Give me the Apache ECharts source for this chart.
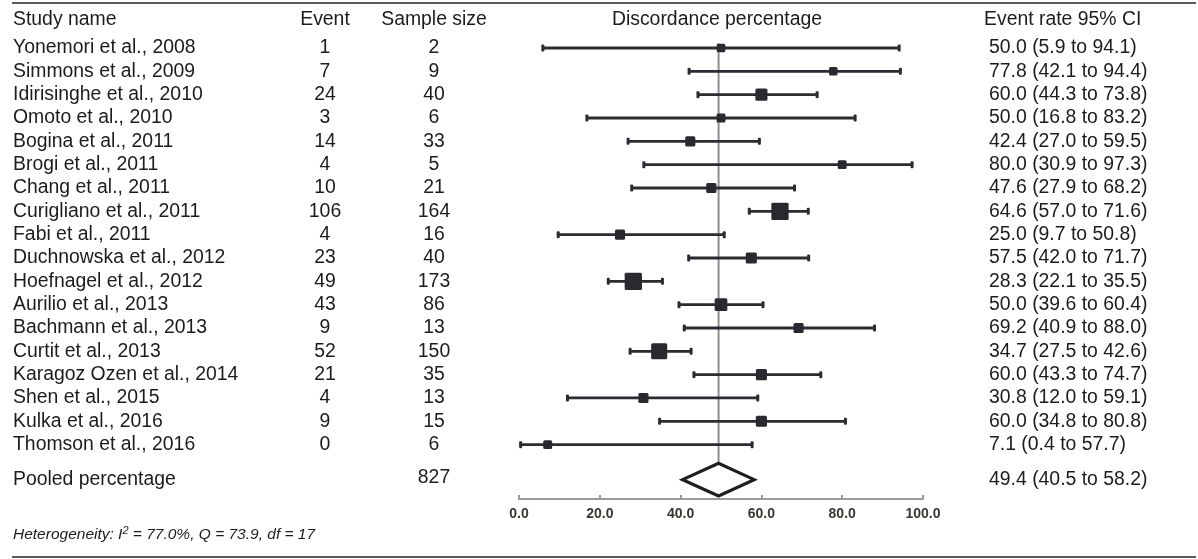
<!DOCTYPE html>
<html><head><meta charset="utf-8">
<script src="https://cdn.jsdelivr.net/npm/echarts@6/dist/echarts.min.js"></script>
<style>html,body{margin:0;padding:0;background:#fff}#c{width:1198px;height:559px}</style>
</head><body><div id="c"></div>
<script>
const studies = ['Yonemori et al., 2008','Simmons et al., 2009','Idirisinghe et al., 2010','Omoto et al., 2010','Bogina et al., 2011','Brogi et al., 2011','Chang et al., 2011','Curigliano et al., 2011','Fabi et al., 2011','Duchnowska et al., 2012','Hoefnagel et al., 2012','Aurilio et al., 2013','Bachmann et al., 2013','Curtit et al., 2013','Karagoz Ozen et al., 2014','Shen et al., 2015','Kulka et al., 2016','Thomson et al., 2016'];
const events = [1,7,24,3,14,4,10,106,4,23,49,43,9,52,21,4,9,0];
const sampleSizes = [2,9,40,6,33,5,21,164,16,40,173,86,13,150,35,13,15,6];
const rates = [50.0,77.8,60.0,50.0,42.4,80.0,47.6,64.6,25.0,57.5,28.3,50.0,69.2,34.7,60.0,30.8,60.0,7.1];
const lowerCI = [5.9,42.1,44.3,16.8,27.0,30.9,27.9,57.0,9.7,42.0,22.1,39.6,40.9,27.5,43.3,12.0,34.8,0.4];
const upperCI = [94.1,94.4,73.8,83.2,59.5,97.3,68.2,71.6,50.8,71.7,35.5,60.4,88.0,42.6,74.7,59.1,80.8,57.7];
const relWeights = [3.5,3.5,5.3,3.7,4.3,3.7,4.3,7.9,4.3,4.8,7.9,5.6,4.3,7.3,4.8,4.3,4.8,3.7];
const pooledLabel = 'Pooled percentage';
const pooledRate = 49.4, pooledLower = 40.5, pooledUpper = 58.2, pooledTotal = 827;
const heterogeneity = {I2: '77.0%', Q: '73.9', df: '17'};
const xTicks = [0, 20, 40, 60, 80, 100];

const FONT = "'Liberation Sans', Arial, sans-serif";
const TXT = '#1c1c1c';
const ROW_STEP = 1, POOLED_ROW = 18.5;
const fmt = v => v.toFixed(1);

const forestData = studies.map((s, i) => [lowerCI[i], upperCI[i], rates[i], i * ROW_STEP, relWeights[i]]);
const tableData = studies.map((s, i) => [0, i * ROW_STEP]);
tableData.push([0, POOLED_ROW]);

const chart = echarts.init(document.getElementById('c'), null, {renderer: 'canvas'});
const FS = '19.4px ';
const textEl = (x, y, text, align) => ({
  type: 'text', x: x, y: y,
  style: {text: text, font: FS + FONT, fill: TXT, textAlign: align, textVerticalAlign: 'middle', align: align, verticalAlign: 'middle'}
});

chart.setOption({
  animation: false,
  backgroundColor: '#fff',
  grid: {left: 519, right: 275, top: 1.34, bottom: 60},
  xAxis: {
    type: 'value', min: xTicks[0], max: xTicks[xTicks.length - 1], interval: xTicks[1] - xTicks[0],
    axisLine: {show: true, onZero: false, lineStyle: {color: '#9a9a9a', width: 2}},
    axisTick: {show: true, inside: true, length: 4, lineStyle: {color: '#9a9a9a', width: 2}},
    axisLabel: {formatter: v => fmt(v), fontFamily: FONT, fontWeight: 'bold', fontSize: 14, color: '#3a3632', margin: 8},
    splitLine: {show: false}
  },
  yAxis: {type: 'value', inverse: true, min: -2, max: 19.33, show: false, splitLine: {show: false}},
  series: [
    {
      type: 'line', z: 1, symbol: 'none', silent: true,
      data: [[pooledRate, -0.2], [pooledRate, POOLED_ROW]],
      lineStyle: {color: '#8e8e8e', width: 2}
    },
    {
      type: 'custom', z: 3, silent: true,
      data: forestData,
      renderItem: (params, api) => {
        const row = api.value(3);
        const lo = api.coord([api.value(0), row]);
        const hi = api.coord([api.value(1), row]);
        const est = api.coord([api.value(2), row]);
        const s = 2 * api.value(4) + 1.5;
        const c = '#2a2c31';
        return {type: 'group', children: [
          {type: 'line', shape: {x1: lo[0], y1: lo[1], x2: hi[0], y2: hi[1]}, style: {stroke: c, lineWidth: 2.8}},
          {type: 'rect', shape: {x: lo[0] - 1.5, y: lo[1] - 3.5, width: 3, height: 7, r: 1}, style: {fill: c}},
          {type: 'rect', shape: {x: hi[0] - 1.5, y: hi[1] - 3.5, width: 3, height: 7, r: 1}, style: {fill: c}},
          {type: 'rect', shape: {x: est[0] - s / 2, y: est[1] - s / 2, width: s, height: s, r: 1.5}, style: {fill: '#282a30'}}
        ]};
      }
    },
    {
      type: 'custom', z: 4, silent: true,
      data: [[pooledLower, pooledUpper, pooledRate, POOLED_ROW]],
      renderItem: (params, api) => {
        const row = api.value(3);
        const lo = api.coord([api.value(0), row]);
        const hi = api.coord([api.value(1), row]);
        const top = api.coord([api.value(2), row - 0.7]);
        const bot = api.coord([api.value(2), row + 0.7]);
        return {type: 'polygon', shape: {points: [lo, top, hi, bot]}, style: {fill: '#fff', stroke: '#1e1e1e', lineWidth: 3.2, lineJoin: 'miter'}};
      }
    },
    {
      type: 'custom', z: 5, silent: true,
      data: tableData,
      renderItem: (params, api) => {
        const i = params.dataIndex;
        const y = api.coord([0, api.value(1)])[1];
        if (i < studies.length) {
          return {type: 'group', children: [
            textEl(13, y, studies[i], 'left'),
            textEl(325, y, String(events[i]), 'center'),
            textEl(434, y, String(sampleSizes[i]), 'center'),
            textEl(989, y, fmt(rates[i]) + ' (' + fmt(lowerCI[i]) + ' to ' + fmt(upperCI[i]) + ')', 'left')
          ]};
        }
        return {type: 'group', children: [
          textEl(13, y, pooledLabel, 'left'),
          textEl(434, y - 2, String(pooledTotal), 'center'),
          textEl(989, y, fmt(pooledRate) + ' (' + fmt(pooledLower) + ' to ' + fmt(pooledUpper) + ')', 'left')
        ]};
      }
    }
  ],
  graphic: [
    {type: 'line', shape: {x1: 12, y1: 3, x2: 1196, y2: 3}, style: {stroke: '#5a5a5a', lineWidth: 2}},
    {type: 'line', shape: {x1: 12, y1: 557, x2: 1196, y2: 557}, style: {stroke: '#5a5a5a', lineWidth: 2}},
    {type: 'text', x: 13, y: 20, style: {text: 'Study name', font: FS + FONT, fill: TXT, textAlign: 'left', textVerticalAlign: 'middle'}},
    {type: 'text', x: 325, y: 20, style: {text: 'Event', font: FS + FONT, fill: TXT, textAlign: 'center', textVerticalAlign: 'middle'}},
    {type: 'text', x: 434, y: 20, style: {text: 'Sample size', font: FS + FONT, fill: TXT, textAlign: 'center', textVerticalAlign: 'middle'}},
    {type: 'text', x: 717, y: 20, style: {text: 'Discordance percentage', font: FS + FONT, fill: TXT, textAlign: 'center', textVerticalAlign: 'middle'}},
    {type: 'text', x: 984, y: 20, style: {text: 'Event rate 95% CI', font: FS + FONT, fill: TXT, textAlign: 'left', textVerticalAlign: 'middle'}},
    {type: 'text', x: 13, y: 535, style: {
      text: '{a|Heterogeneity: I}{s|2}{a| = ' + heterogeneity.I2 + ', Q = ' + heterogeneity.Q + ', df = ' + heterogeneity.df + '}',
      textVerticalAlign: 'middle',
      rich: {
        a: {fontFamily: FONT, fontStyle: 'italic', fontSize: 15.5, fill: TXT, color: TXT},
        s: {fontFamily: FONT, fontStyle: 'italic', fontSize: 11, fill: TXT, color: TXT, verticalAlign: 'top', padding: [0, 0, 9, 0]}
      }
    }}
  ]
});
</script></body></html>
